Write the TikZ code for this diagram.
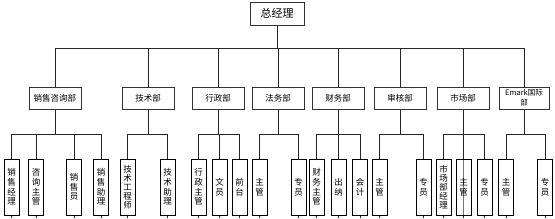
\documentclass[tikz,border=0pt]{standalone}
\usepackage{fontspec}
\setmainfont{Noto Sans CJK SC}
\usetikzlibrary{backgrounds,shadows}
\begin{document}
\begin{tikzpicture}[x=1pt,y=-1pt,
  conn/.style={draw=black!85, line width=0.8pt},
  topbox/.style={draw=black!80, line width=1pt, fill=white, minimum width=54pt, minimum height=23pt, inner sep=0pt, font=\fontsize{11}{12}\selectfont},
  deptbox/.style={draw=black!80, line width=1pt, fill=white, minimum width=52pt, minimum height=22pt, inner sep=0pt, align=center, font=\fontsize{8.5}{10}\selectfont},
  leafbox/.style={draw=black, line width=0.8pt, fill=white, minimum width=15pt, minimum height=56pt, inner sep=0pt, align=center, font=\fontsize{8.5}{9.6}\selectfont,
    drop shadow={shadow xshift=0.9pt, shadow yshift=-0.9pt, fill=black!65, opacity=1}},
  throughline/.style={path picture={\draw[draw=black!55, line width=0.8pt] (path picture bounding box.north) -- (path picture bounding box.south);}}]
\useasboundingbox (0,0) rectangle (555,218);

% top
\node[topbox] (gm) at (277,13.5) {总经理};

% departments
\node[deptbox] (d1) at (55,98) {销售咨询部};
\node[deptbox] (d2) at (148,98) {技术部};
\node[deptbox] (d3) at (218,98) {行政部};
\node[deptbox] (d4) at (278,98) {法务部};
\node[deptbox] (d5) at (338,98) {财务部};
\node[deptbox] (d6) at (400,98) {审核部};
\node[deptbox] (d7) at (463,98) {市场部};
\node[deptbox, minimum width=50pt, font=\fontsize{7.5}{9.5}\selectfont] (d8) at (524,98) {Emark国际\\部};

% leaves
\node[leafbox] (l11) at (11.5,187) {销\\售\\经\\理};
\node[leafbox] (l12) at (36,187) {咨\\询\\主\\管};
\node[leafbox] (l13) at (74,187) {销\\售\\员};
\node[leafbox] (l14) at (101,187) {销\\售\\助\\理};

\node[leafbox, font=\fontsize{8.5}{9}\selectfont] (l21) at (127.5,187) {技\\术\\工\\程\\师};
\node[leafbox] (l22) at (167.5,187) {技\\术\\助\\理};

\node[leafbox] (l31) at (198.5,187) {行\\政\\主\\管};
\node[leafbox] (l32) at (219.5,187) {文\\员};
\node[leafbox] (l33) at (239.5,187) {前\\台};

\node[leafbox] (l41) at (259.5,187) {主\\管};
\node[leafbox] (l42) at (298.5,187) {专\\员};

\node[leafbox] (l51) at (316.5,187) {财\\务\\主\\管};
\node[leafbox] (l52) at (338.5,187) {出\\纳};
\node[leafbox] (l53) at (360,187) {会\\计};

\node[leafbox] (l61) at (379.5,187) {主\\管};
\node[leafbox] (l62) at (423.5,187) {专\\员};

\node[leafbox, font=\fontsize{8.5}{9}\selectfont] (l71) at (443.5,187) {市\\场\\部\\经\\理};
\node[leafbox, throughline] (l72) at (463.5,187) {主\\管};
\node[leafbox] (l73) at (484.5,187) {专\\员};

\node[leafbox] (l81) at (506,187) {主\\管};
\node[leafbox] (l82) at (545,187) {专\\员};

\coordinate (bus) at (0,48);
\coordinate (sub) at (0,134);

\begin{scope}[on background layer]
  \fill[white] (0,0) rectangle (555,218);
  % top bus
  \draw[conn] (gm.south) -- (gm.south |- bus);
  \draw[conn] (d1.north |- bus) -- (d8.north |- bus);
  \foreach \d in {d1,d2,d3,d4,d5,d6,d7,d8}
    \draw[conn] (\d.north |- bus) -- (\d.north);
  % lower drops
  \foreach \d/\a/\b in {d1/l11/l14,d2/l21/l22,d3/l31/l33,d4/l41/l42,d5/l51/l53,d6/l61/l62,d7/l71/l73,d8/l81/l82}{
    \draw[conn] (\d.south) -- (\d.south |- sub);
    \draw[conn] (\a.north |- sub) -- (\b.north |- sub);
  }
  \foreach \l in {l11,l12,l13,l14,l21,l22,l31,l32,l33,l41,l42,l51,l52,l53,l61,l62,l71,l72,l73,l81,l82}{
    \draw[conn] (\l.north |- sub) -- (\l.north);
    \draw[conn] (\l.south) -- ++(0,3);
  }
\end{scope}
\end{tikzpicture}
\end{document}
